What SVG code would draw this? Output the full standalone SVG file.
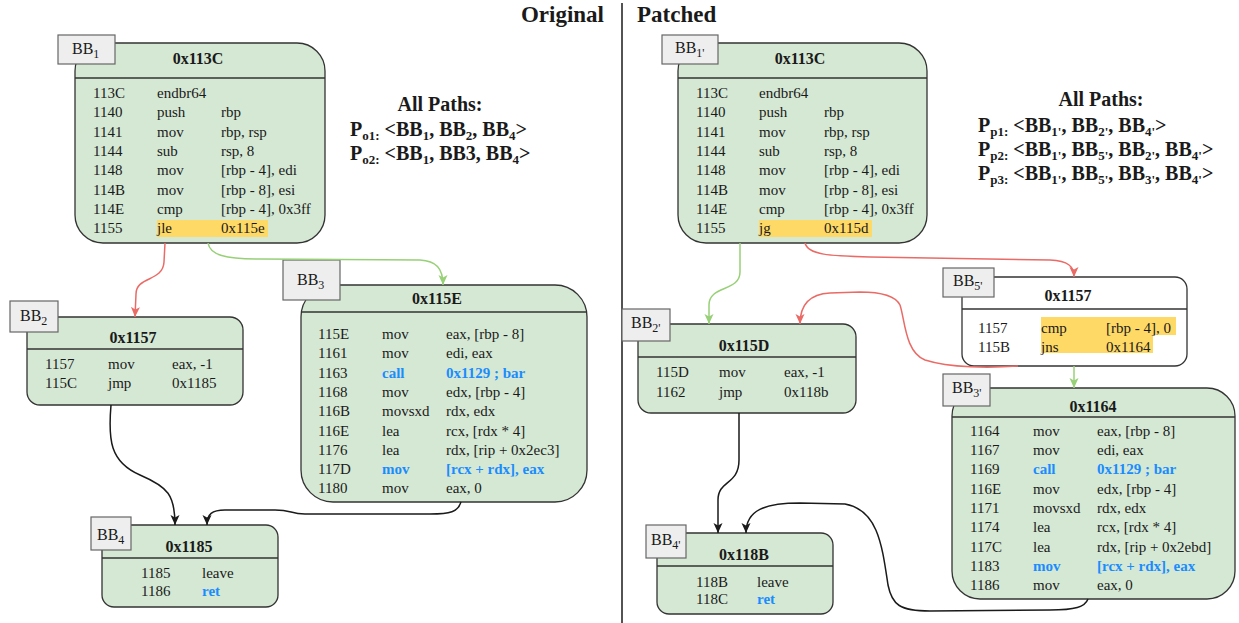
<svg xmlns="http://www.w3.org/2000/svg" width="1239" height="623" viewBox="0 0 1239 623">
<style>
text{font-family:"Liberation Serif","Times New Roman",serif;fill:#1a1a1a}
.box{fill:#d5e8d4;stroke:#333;stroke-width:1.3}
.wbox{fill:#fff;stroke:#333;stroke-width:1.3}
.sep{stroke:#333;stroke-width:1.3}
.lr{fill:#eee;stroke:#666;stroke-width:1.2}
.r{font-size:15px}
.hd{font-size:16px;font-weight:bold;text-anchor:middle}
.bl{fill:#1a8cff;font-weight:bold}
.hl{fill:#ffd966}
.lt{font-size:16px}
.sb{font-size:12px}
.pt{font-size:20px;font-weight:bold}
.ps{font-size:13px}
.ttl{font-size:23px;font-weight:bold}
.c{fill:none;stroke-width:1.5}
.red{stroke:#ea6b66}
.grn{stroke:#97d077}
.blk{stroke:#1a1a1a}
</style>
<defs>
<marker id="ar" markerWidth="10" markerHeight="10" refX="10" refY="5" orient="auto" markerUnits="userSpaceOnUse"><path d="M0,0.5 L10,5 L0,9.5 L2.5,5 Z" fill="#ea6b66"/></marker>
<marker id="ag" markerWidth="10" markerHeight="10" refX="10" refY="5" orient="auto" markerUnits="userSpaceOnUse"><path d="M0,0.5 L10,5 L0,9.5 L2.5,5 Z" fill="#97d077"/></marker>
<marker id="ab" markerWidth="10" markerHeight="10" refX="10" refY="5" orient="auto" markerUnits="userSpaceOnUse"><path d="M0,0.5 L10,5 L0,9.5 L2.5,5 Z" fill="#1a1a1a"/></marker>
</defs>

<g id="titles">
<text class="ttl" x="604" y="22" text-anchor="end">Original</text>
<text class="ttl" x="637" y="22">Patched</text>
<line x1="622" y1="3" x2="622" y2="623" stroke="#1a1a1a" stroke-width="1.5"/>
</g>

<g id="paths-original">
<text class="pt" x="440" y="111" text-anchor="middle">All Paths:</text>
<text class="pt" x="350" y="136">P<tspan class="ps" dy="4">o1:</tspan><tspan dy="-4"> &lt;BB</tspan><tspan class="ps" dy="4">1</tspan><tspan dy="-4">, BB</tspan><tspan class="ps" dy="4">2</tspan><tspan dy="-4">, BB</tspan><tspan class="ps" dy="4">4</tspan><tspan dy="-4">&gt;</tspan></text>
<text class="pt" x="350" y="160">P<tspan class="ps" dy="4">o2:</tspan><tspan dy="-4"> &lt;BB</tspan><tspan class="ps" dy="4">1</tspan><tspan dy="-4">, BB3, BB</tspan><tspan class="ps" dy="4">4</tspan><tspan dy="-4">&gt;</tspan></text>
</g>

<g id="paths-patched">
<text class="pt" x="1101" y="106" text-anchor="middle">All Paths:</text>
<text class="pt" x="978" y="132">P<tspan class="ps" dy="4">p1:</tspan><tspan dy="-4"> &lt;BB</tspan><tspan class="ps" dy="4">1'</tspan><tspan dy="-4">, BB</tspan><tspan class="ps" dy="4">2'</tspan><tspan dy="-4">, BB</tspan><tspan class="ps" dy="4">4'</tspan><tspan dy="-4">&gt;</tspan></text>
<text class="pt" x="978" y="156">P<tspan class="ps" dy="4">p2:</tspan><tspan dy="-4"> &lt;BB</tspan><tspan class="ps" dy="4">1'</tspan><tspan dy="-4">, BB</tspan><tspan class="ps" dy="4">5'</tspan><tspan dy="-4">, BB</tspan><tspan class="ps" dy="4">2'</tspan><tspan dy="-4">, BB</tspan><tspan class="ps" dy="4">4'</tspan><tspan dy="-4">&gt;</tspan></text>
<text class="pt" x="978" y="180">P<tspan class="ps" dy="4">p3:</tspan><tspan dy="-4"> &lt;BB</tspan><tspan class="ps" dy="4">1'</tspan><tspan dy="-4">, BB</tspan><tspan class="ps" dy="4">5'</tspan><tspan dy="-4">, BB</tspan><tspan class="ps" dy="4">3'</tspan><tspan dy="-4">, BB</tspan><tspan class="ps" dy="4">4'</tspan><tspan dy="-4">&gt;</tspan></text>
</g>

<g id="BB1">
<rect class="box" x="75" y="43" width="250" height="200" rx="28"/>
<line class="sep" x1="75" y1="78" x2="325" y2="78"/>
<text class="hd" x="198" y="64">0x113C</text>
<rect class="hl" x="157" y="220" width="111" height="17"/>
<g class="r">
<text x="93" y="98">113C</text><text x="157" y="98">endbr64</text>
<text x="93" y="117.3">1140</text><text x="157" y="117.3">push</text><text x="221" y="117.3">rbp</text>
<text x="93" y="136.6">1141</text><text x="157" y="136.6">mov</text><text x="221" y="136.6">rbp, rsp</text>
<text x="93" y="155.9">1144</text><text x="157" y="155.9">sub</text><text x="221" y="155.9">rsp, 8</text>
<text x="93" y="175.2">1148</text><text x="157" y="175.2">mov</text><text x="221" y="175.2">[rbp - 4], edi</text>
<text x="93" y="194.5">114B</text><text x="157" y="194.5">mov</text><text x="221" y="194.5">[rbp - 8], esi</text>
<text x="93" y="213.8">114E</text><text x="157" y="213.8">cmp</text><text x="221" y="213.8">[rbp - 4], 0x3ff</text>
<text x="93" y="233">1155</text><text x="157" y="233">jle</text><text x="221" y="233">0x115e</text>
</g>
<rect class="lr" x="58" y="35" width="57" height="29"/>
<text class="lt" x="72" y="54">BB<tspan class="sb" dy="4">1</tspan></text>
</g>

<g id="BB2">
<rect class="box" x="27" y="317" width="216" height="88" rx="13"/>
<line class="sep" x1="27" y1="349" x2="243" y2="349"/>
<text class="hd" x="133" y="343">0x1157</text>
<g class="r">
<text x="45" y="369">1157</text><text x="108" y="369">mov</text><text x="172" y="369">eax, -1</text>
<text x="45" y="388">115C</text><text x="108" y="388">jmp</text><text x="172" y="388">0x1185</text>
</g>
<rect class="lr" x="10" y="301" width="48" height="31"/>
<text class="lt" x="20" y="321">BB<tspan class="sb" dy="4">2</tspan></text>
</g>

<g id="BB3">
<rect class="box" x="301" y="285" width="286" height="217" rx="32"/>
<line class="sep" x1="301" y1="312" x2="587" y2="312"/>
<text class="hd" x="437" y="304">0x115E</text>
<g class="r">
<text x="318" y="339">115E</text><text x="382" y="339">mov</text><text x="446" y="339">eax, [rbp - 8]</text>
<text x="318" y="358.3">1161</text><text x="382" y="358.3">mov</text><text x="446" y="358.3">edi, eax</text>
<text x="318" y="377.6">1163</text><text class="bl" x="382" y="377.6">call</text><text class="bl" x="446" y="377.6">0x1129 ; bar</text>
<text x="318" y="396.9">1168</text><text x="382" y="396.9">mov</text><text x="446" y="396.9">edx, [rbp - 4]</text>
<text x="318" y="416.2">116B</text><text x="382" y="416.2">movsxd</text><text x="446" y="416.2">rdx, edx</text>
<text x="318" y="435.5">116E</text><text x="382" y="435.5">lea</text><text x="446" y="435.5">rcx, [rdx * 4]</text>
<text x="318" y="454.8">1176</text><text x="382" y="454.8">lea</text><text x="446" y="454.8">rdx, [rip + 0x2ec3]</text>
<text x="318" y="474.1">117D</text><text class="bl" x="382" y="474.1">mov</text><text class="bl" x="446" y="474.1">[rcx + rdx], eax</text>
<text x="318" y="493.4">1180</text><text x="382" y="493.4">mov</text><text x="446" y="493.4">eax, 0</text>
</g>
<rect class="lr" x="283" y="260" width="57" height="40"/>
<text class="lt" x="297" y="285">BB<tspan class="sb" dy="4">3</tspan></text>
</g>

<g id="BB4">
<rect class="box" x="102" y="525" width="176" height="82" rx="12"/>
<line class="sep" x1="102" y1="558" x2="278" y2="558"/>
<text class="hd" x="189" y="552">0x1185</text>
<g class="r">
<text x="141" y="578">1185</text><text x="202" y="578">leave</text>
<text x="141" y="596">1186</text><text class="bl" x="202" y="596">ret</text>
</g>
<rect class="lr" x="91" y="517" width="40" height="33"/>
<text class="lt" x="97" y="540">BB<tspan class="sb" dy="4">4</tspan></text>
</g>

<g id="BB1p">
<rect class="box" x="678" y="43" width="249" height="200" rx="28"/>
<line class="sep" x1="678" y1="78" x2="927" y2="78"/>
<text class="hd" x="800" y="64">0x113C</text>
<rect class="hl" x="759" y="220" width="113" height="17"/>
<g class="r">
<text x="696" y="98">113C</text><text x="759" y="98">endbr64</text>
<text x="696" y="117.3">1140</text><text x="759" y="117.3">push</text><text x="824" y="117.3">rbp</text>
<text x="696" y="136.6">1141</text><text x="759" y="136.6">mov</text><text x="824" y="136.6">rbp, rsp</text>
<text x="696" y="155.9">1144</text><text x="759" y="155.9">sub</text><text x="824" y="155.9">rsp, 8</text>
<text x="696" y="175.2">1148</text><text x="759" y="175.2">mov</text><text x="824" y="175.2">[rbp - 4], edi</text>
<text x="696" y="194.5">114B</text><text x="759" y="194.5">mov</text><text x="824" y="194.5">[rbp - 8], esi</text>
<text x="696" y="213.8">114E</text><text x="759" y="213.8">cmp</text><text x="824" y="213.8">[rbp - 4], 0x3ff</text>
<text x="696" y="233">1155</text><text x="759" y="233">jg</text><text x="824" y="233">0x115d</text>
</g>
<rect class="lr" x="662" y="35" width="56" height="29"/>
<text class="lt" x="675" y="53">BB<tspan class="sb" dy="4">1'</tspan></text>
</g>

<g id="BB5p">
<rect class="wbox" x="962" y="277" width="225" height="89" rx="12"/>
<line class="sep" x1="962" y1="309" x2="1187" y2="309"/>
<text class="hd" x="1068" y="301">0x1157</text>
<rect class="hl" x="1041" y="317" width="135" height="18"/>
<rect class="hl" x="1041" y="335" width="112" height="18"/>
<g class="r">
<text x="978" y="333">1157</text><text x="1041" y="333">cmp</text><text x="1106" y="333">[rbp - 4], 0</text>
<text x="978" y="352">115B</text><text x="1041" y="352">jns</text><text x="1106" y="352">0x1164</text>
</g>
<rect class="lr" x="943" y="268" width="51" height="29"/>
<text class="lt" x="953" y="286">BB<tspan class="sb" dy="4">5'</tspan></text>
</g>

<g id="BB2p">
<rect class="box" x="638" y="324" width="218" height="89" rx="13"/>
<line class="sep" x1="638" y1="357" x2="856" y2="357"/>
<text class="hd" x="744" y="351">0x115D</text>
<g class="r">
<text x="656" y="377">115D</text><text x="719" y="377">mov</text><text x="784" y="377">eax, -1</text>
<text x="656" y="397">1162</text><text x="719" y="397">jmp</text><text x="784" y="397">0x118b</text>
</g>
<rect class="lr" x="622" y="309" width="48" height="32"/>
<text class="lt" x="631" y="328">BB<tspan class="sb" dy="4">2'</tspan></text>
</g>

<g id="BB3p">
<rect class="box" x="952" y="388" width="283" height="211" rx="28"/>
<line class="sep" x1="952" y1="417" x2="1235" y2="417"/>
<text class="hd" x="1093" y="412">0x1164</text>
<g class="r">
<text x="970" y="435.7">1164</text><text x="1033" y="435.7">mov</text><text x="1097" y="435.7">eax, [rbp - 8]</text>
<text x="970" y="455">1167</text><text x="1033" y="455">mov</text><text x="1097" y="455">edi, eax</text>
<text x="970" y="474.3">1169</text><text class="bl" x="1033" y="474.3">call</text><text class="bl" x="1097" y="474.3">0x1129 ; bar</text>
<text x="970" y="493.6">116E</text><text x="1033" y="493.6">mov</text><text x="1097" y="493.6">edx, [rbp - 4]</text>
<text x="970" y="512.9">1171</text><text x="1033" y="512.9">movsxd</text><text x="1097" y="512.9">rdx, edx</text>
<text x="970" y="532.2">1174</text><text x="1033" y="532.2">lea</text><text x="1097" y="532.2">rcx, [rdx * 4]</text>
<text x="970" y="551.5">117C</text><text x="1033" y="551.5">lea</text><text x="1097" y="551.5">rdx, [rip + 0x2ebd]</text>
<text x="970" y="570.8">1183</text><text class="bl" x="1033" y="570.8">mov</text><text class="bl" x="1097" y="570.8">[rcx + rdx], eax</text>
<text x="970" y="590">1186</text><text x="1033" y="590">mov</text><text x="1097" y="590">eax, 0</text>
</g>
<rect class="lr" x="943" y="374" width="47" height="32"/>
<text class="lt" x="952" y="393">BB<tspan class="sb" dy="4">3'</tspan></text>
</g>

<g id="BB4p">
<rect class="box" x="657" y="533" width="176" height="81" rx="12"/>
<line class="sep" x1="657" y1="566" x2="833" y2="566"/>
<text class="hd" x="744" y="560">0x118B</text>
<g class="r">
<text x="696" y="587">118B</text><text x="757" y="587">leave</text>
<text x="696" y="604">118C</text><text class="bl" x="757" y="604">ret</text>
</g>
<rect class="lr" x="646" y="525" width="40" height="33"/>
<text class="lt" x="651" y="545">BB<tspan class="sb" dy="4">4'</tspan></text>
</g>

<g id="connectors">
<path class="c red" d="M165 243 L164 262 C163 282 136 276 136 294 L135 317" marker-end="url(#ar)"/>
<path class="c grn" d="M208 243 C210 255 225 259 260 259 L420 260 C436 261 443 268 443 285" marker-end="url(#ag)"/>
<path class="c blk" d="M111 405 C108 440 110 462 140 475 C168 487 175 495 175 525" marker-end="url(#ab)"/>
<path class="c blk" d="M461 502 C458 512 450 514 430 514 L305 514 C290 514 292 510 275 510 L225 510 C212 510 207 514 207 525" marker-end="url(#ab)"/>
<path class="c red" d="M805 243 C808 255 830 256 870 257 L1050 260 C1068 261 1074 266 1074 277" marker-end="url(#ar)"/>
<path class="c grn" d="M740 243 L740 272 C740 292 709 285 709 305 L709 324" marker-end="url(#ag)"/>
<path class="c red" d="M1018 366 C990 368 950 368 925 360 C905 352 905 320 900 305 C895 295 880 292 860 292 L830 293 C810 294 800 305 800 324" marker-end="url(#ar)"/>
<path class="c grn" d="M1074 366 L1074 388" marker-end="url(#ag)"/>
<path class="c blk" d="M739 413 L739 460 C739 485 718 480 718 500 L718 533" marker-end="url(#ab)"/>
<path class="c blk" d="M1088 599 C1085 607 1075 610 1050 610 L930 611 C900 611 892 605 888 585 C882 545 878 510 845 504 L800 503 C765 503 746 510 746 533" marker-end="url(#ab)"/>
</g>
</svg>
